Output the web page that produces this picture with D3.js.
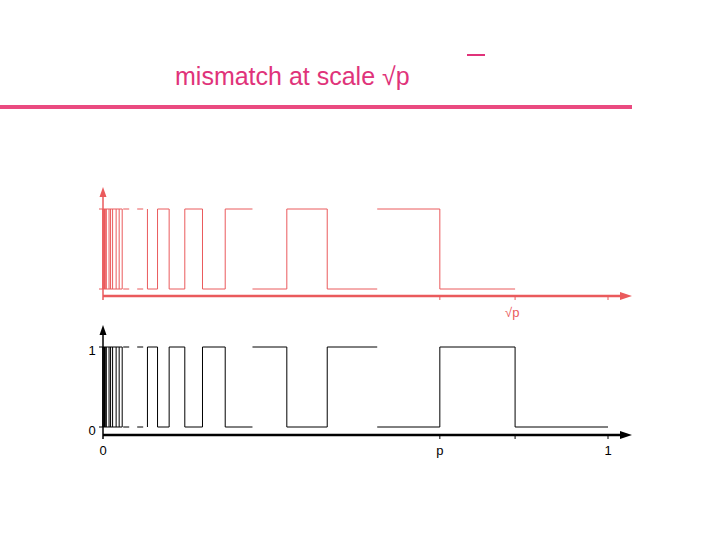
<!DOCTYPE html>
<html><head><meta charset="utf-8">
<script src="https://cdn.jsdelivr.net/npm/d3@7"></script>
<style>body{margin:0;background:#fff}</style></head>
<body><svg id="c" width="720" height="540"></svg>
<script>
// breakpoints along the unit interval
const bounds = [0.088,0.108,0.131,0.162,0.197,0.242,0.296,0.364,0.444,0.543,0.667,0.816,1.0];
const blackLevels = [1,0,1,0,1,0,1,0,1,0,1,0];   // level on each interval
const redLevels   = [0,1,0,1,0,1,0,1,0,1,0];     // red ends at sqrt p
const noEdge = [0.296,0.543];                    // jumps drawn without vertical
const denseLines = [0,0.003,0.006,0.012,0.015,0.019,0.026,0.032,0.038];
const dashStart = 0.040;
const xTickVals = [0.667,0.816,1.0];
const xTickLabels = ["p","","1"];

const svg = d3.select("#c");
const x = d3.scaleLinear().domain([0,1]).range([103,608]);
const red = "#ea5a5c", black = "#000";

svg.append("text").attr("x",175).attr("y",85).attr("font-family","Liberation Sans, Arial")
  .attr("font-size",25).attr("fill","#e0337a").text("mismatch at scale  \u221Ap");
svg.append("line").attr("x1",467).attr("x2",485).attr("y1",55).attr("y2",55).attr("stroke","#e0337a").attr("stroke-width",2);
svg.append("rect").attr("x",0).attr("y",105).attr("width",632).attr("height",4).attr("fill","#ea4a80");

function panel(levels, yTop, yBot, yAxis, yArrowTop, color, axisW){
  const y = d3.scaleLinear().domain([0,1]).range([yBot,yTop]);
  const g = svg.append("g").attr("stroke",color).attr("fill","none");
  // axes
  g.append("line").attr("x1",x(0)).attr("x2",x(1)+15).attr("y1",yAxis).attr("y2",yAxis).attr("stroke-width",axisW);
  g.append("line").attr("x1",x(0)).attr("x2",x(0)).attr("y1",yAxis+4).attr("y2",yArrowTop+6).attr("stroke-width",1.5);
  svg.append("path").attr("fill",color).attr("d",`M${x(0)-3.5},${yArrowTop+10}L${x(0)},${yArrowTop}L${x(0)+3.5},${yArrowTop+10}Z`);
  svg.append("path").attr("fill",color).attr("d",`M${x(1)+12},${yAxis-4}L${x(1)+24},${yAxis}L${x(1)+12},${yAxis+4}Z`);
  xTickVals.forEach(v=>g.append("line").attr("x1",x(v)).attr("x2",x(v)).attr("y1",yAxis).attr("y2",yAxis+4));
  g.append("line").attr("x1",x(0)-4).attr("x2",x(0)).attr("y1",y(0)).attr("y2",y(0));
  g.append("line").attr("x1",x(0)-4).attr("x2",x(0)).attr("y1",y(1)).attr("y2",y(1));
  // dense start
  denseLines.forEach(v=>g.append("line").attr("x1",x(v)).attr("x2",x(v)).attr("y1",y(0)).attr("y2",y(1)).attr("stroke-width",v<0.01?1.6:1));
  [0,1].forEach(l=>{
    g.append("line").attr("x1",x(0)).attr("x2",x(denseLines[denseLines.length-1])).attr("y1",y(l)).attr("y2",y(l));
    g.append("line").attr("x1",x(dashStart)).attr("x2",x(bounds[0])).attr("y1",y(l)).attr("y2",y(l)).attr("stroke-dasharray","6,8");
  });
  levels.forEach((l,i)=>{
    g.append("line").attr("x1",x(bounds[i])).attr("x2",x(bounds[i+1])).attr("y1",y(l)).attr("y2",y(l));
    if(!noEdge.includes(bounds[i]))
      g.append("line").attr("x1",x(bounds[i])).attr("x2",x(bounds[i])).attr("y1",y(0)).attr("y2",y(1));
  });
  return y;
}
panel(redLevels,209,289,296,187,red,2.5);
panel(blackLevels,347,427,435,325,black,2.5);

const tf = "Liberation Sans, Arial";
svg.append("text").attr("x",505).attr("y",317).attr("font-family",tf).attr("font-size",13).attr("fill",red).text("\u221Ap");
svg.append("text").attr("x",92).attr("y",355).attr("text-anchor","middle").attr("font-family",tf).attr("font-size",13).text("1");
svg.append("text").attr("x",92).attr("y",435).attr("text-anchor","middle").attr("font-family",tf).attr("font-size",13).text("0");
svg.append("text").attr("x",x(0)).attr("y",455).attr("text-anchor","middle").attr("font-family",tf).attr("font-size",13).text("0");
xTickVals.forEach((v,i)=>svg.append("text").attr("x",x(v)).attr("y",455).attr("text-anchor","middle").attr("font-family",tf).attr("font-size",13).text(xTickLabels[i]));
</script></body></html>
